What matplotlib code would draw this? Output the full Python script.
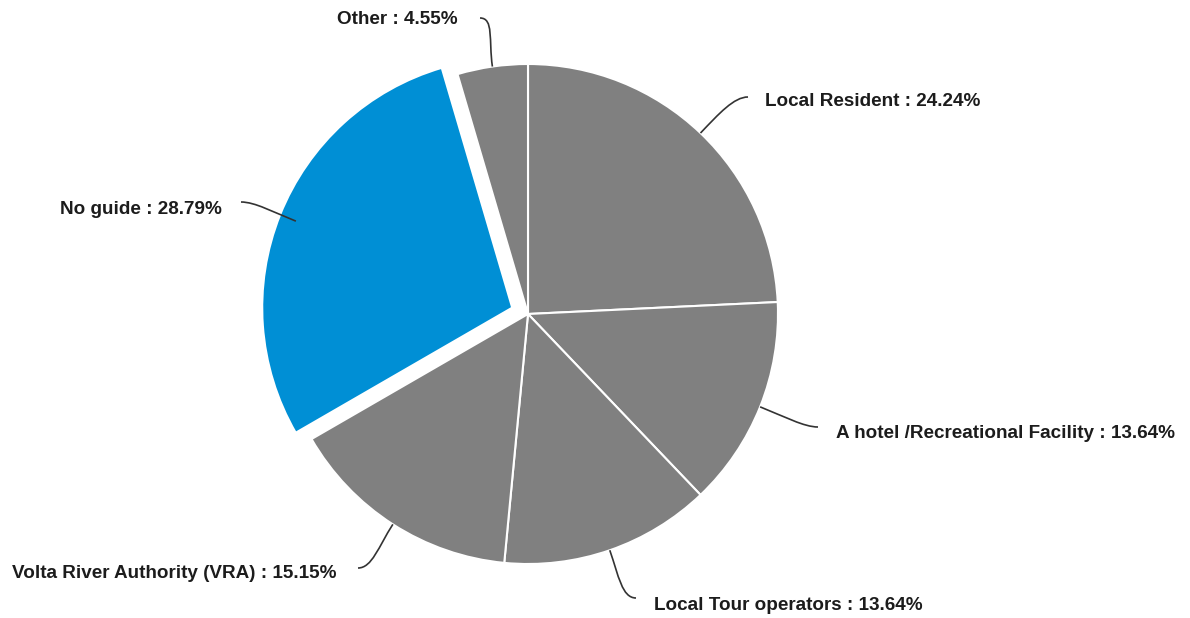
import numpy as np
import matplotlib.pyplot as plt
from matplotlib.path import Path
from matplotlib.patches import PathPatch

labels = ['Local Resident', 'A hotel /Recreational Facility', 'Local Tour operators',
          'Volta River Authority (VRA)', 'No guide', 'Other']
shares = [24.24, 13.64, 13.64, 15.15, 28.79, 4.55]
colors = ['#808080', '#808080', '#808080', '#808080', '#008fd5', '#808080']
sliced = [False, False, False, False, True, False]

W, H = 1190, 618
cx, cy, R = 528, H - 314, 250
slice_offset = 17

# label placement: text anchor (x, y), alignment, connector end (x, y), in pixel coords (y down)
label_pos = [
    ((765, 102), 'left', (748, 97)),
    ((836, 433), 'left', (818, 427)),
    ((654, 605), 'left', (636, 598)),
    ((336, 574), 'right', (358, 568)),
    ((222, 209), 'right', (241, 202)),
    ((458, 20), 'right', (480, 18)),
]

fig = plt.figure(figsize=(W / 100, H / 100), dpi=100)
ax = fig.add_axes([0, 0, 1, 1])
wedges, _ = ax.pie(shares, colors=colors,
                   explode=[slice_offset if s else 0 for s in sliced],
                   startangle=90, counterclock=False, center=(cx, cy), radius=R,
                   wedgeprops=dict(edgecolor='white', linewidth=1.5))
ax.set_xlim(0, W)
ax.set_ylim(0, H)
ax.set_aspect('equal')
ax.axis('off')

for w, lab, val, (tpos, ha, lend) in zip(wedges, labels, shares, label_pos):
    mid = np.deg2rad((w.theta1 + w.theta2) / 2)
    d = np.array([np.cos(mid), np.sin(mid)])
    p0 = np.array([cx, cy]) + R * d
    p3 = np.array([lend[0], H - lend[1]])
    side = 1 if ha == 'left' else -1
    p2 = p3 - np.array([side * 14, 0])
    p1 = p0 + d * 0.55 * np.linalg.norm(p2 - p0)
    path = Path([p0, p1, p2, p3], [Path.MOVETO, Path.CURVE4, Path.CURVE4, Path.CURVE4])
    ax.add_patch(PathPatch(path, fill=False, edgecolor='#333333', linewidth=1.2))
    ax.text(tpos[0], H - tpos[1], f'{lab} : {val:.2f}%', ha=ha, va='center',
            fontsize=13.6, fontweight='bold', family='Liberation Sans', color='#1c1c1c')

fig.savefig('out.png', dpi=100, facecolor='white')
